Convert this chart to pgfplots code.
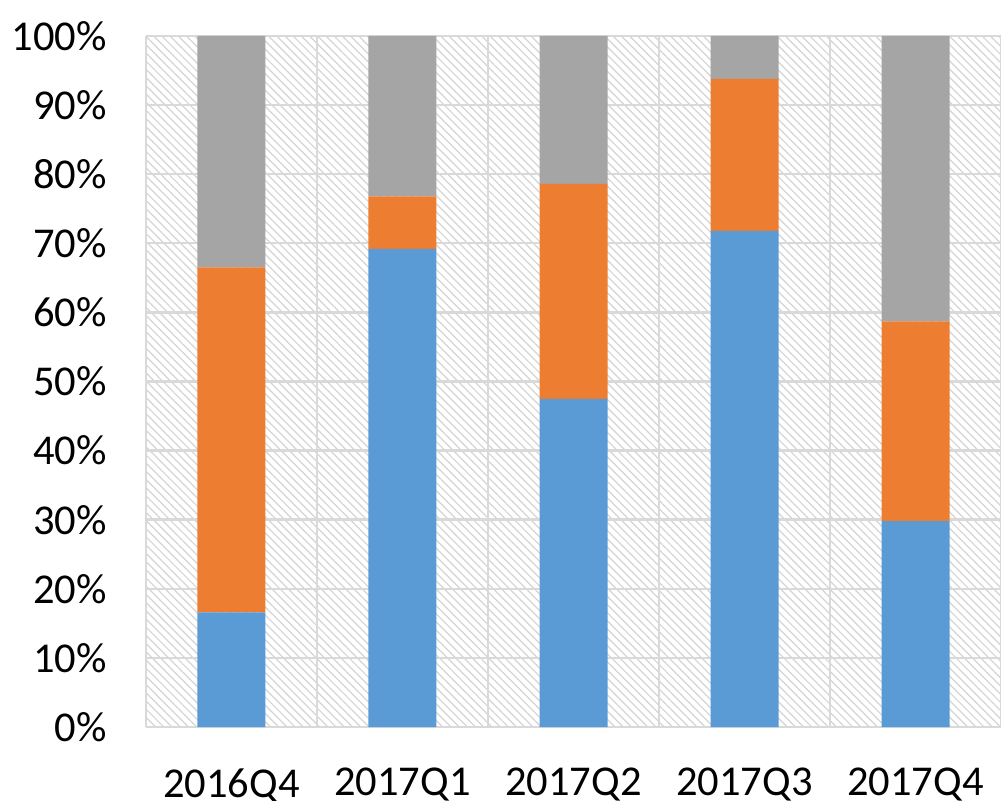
\documentclass[border=0pt]{standalone}
\usepackage{pgfplots}
\pgfplotsset{compat=1.18}
\usepackage{fontspec}
\setmainfont{Carlito}
\usetikzlibrary{patterns.meta}
\definecolor{cblue}{HTML}{5B9BD5}
\definecolor{corange}{HTML}{ED7D31}
\definecolor{cgray}{HTML}{A5A5A5}
\definecolor{cgrid}{HTML}{D9D9D9}
\definecolor{chatch}{HTML}{D4D4D4}
\begin{document}
\begin{tikzpicture}
\begin{axis}[
  scale only axis,
  width=427.5bp, height=345.5bp,
  ybar stacked,
  bar width=34bp,
  xmin=-0.5, xmax=4.5,
  ymin=0, ymax=100,
  xtick={0,1,2,3,4},
  xticklabels={2016Q4,2017Q1,2017Q2,2017Q3,2017Q4},
  minor xtick={-0.5,0.5,1.5,2.5,3.5,4.5},
  ytick={0,10,...,100},
  yticklabels={0\%,10\%,20\%,30\%,40\%,50\%,60\%,70\%,80\%,90\%,100\%},
  major tick length=0pt, minor tick length=0pt,
  ymajorgrids, xminorgrids,
  grid style={cgrid, line width=1.2bp},
  minor grid style={cgrid, line width=1.2bp},
  axis line style={draw=none},
  axis background/.style={pattern={Lines[angle=-45,distance=2.9bp,line width=0.6bp]}, pattern color=chatch},
  ticklabel style={font=\fontsize{21.25bp}{25bp}\selectfont, inner sep=0pt},
  yticklabel style={anchor=east, xshift=-19.5bp},
  xticklabel style={anchor=north, yshift=-20.5bp},
  /pgf/number format/assume math mode=true,
  clip=false,
]
\addplot[fill=cblue, draw=none] coordinates {(0,16.6) (1,69.2) (2,47.5) (3,71.8) (4,29.8)};
\addplot[fill=corange, draw=none] coordinates {(0,49.9) (1,7.6) (2,31.1) (3,22.0) (4,28.9)};
\addplot[fill=cgray, draw=none] coordinates {(0,33.5) (1,23.2) (2,21.4) (3,6.2) (4,41.3)};
\coordinate (sw) at (rel axis cs:0,0);
\coordinate (ne) at (rel axis cs:1,1);
\end{axis}
\pgfresetboundingbox
\path[use as bounding box] ([xshift=-73bp,yshift=-37bp]sw) rectangle ([yshift=18bp]ne);
\end{tikzpicture}
\end{document}
